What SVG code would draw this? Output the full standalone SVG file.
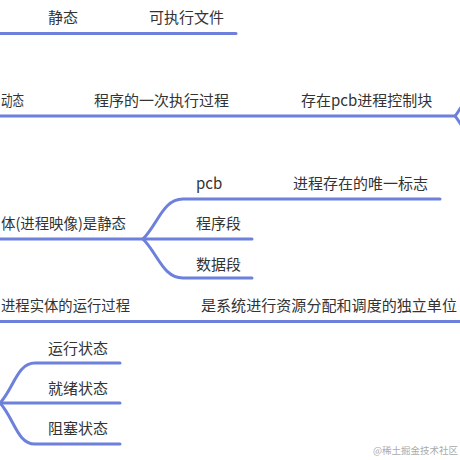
<svg xmlns="http://www.w3.org/2000/svg" width="460" height="460" viewBox="0 0 460 460">
<style>
.l{fill:none;stroke:#6d80db;stroke-width:3;stroke-linecap:round}
.t{font-family:"Noto Sans CJK SC","Noto Sans",sans-serif;font-size:15px;fill:#333}
.w{font-family:"Noto Sans CJK SC",sans-serif;font-size:9.5px;fill:#aaa}
</style>
<rect width="460" height="460" fill="#fff"/>
<g id="connectors">
<path class="l" d="M-5,33.5 H236"/>
<path class="l" d="M-5,116 H455 C458,113 459,109 464,104"/>
<path class="l" d="M455,116 C458,119 459,123 464,128"/>
<path class="l" d="M-5,239 H252"/>
<path class="l" d="M143,239 C158,224 163,199 183,199 H440"/>
<path class="l" d="M143,239 C158,254 163,278 183,278 H252"/>
<path class="l" d="M-5,321.5 H465"/>
<path class="l" d="M0,403 H120"/>
<path class="l" d="M0,403 C14,388 17,363 35,363 H120"/>
<path class="l" d="M0,403 C14,418 17,444 35,444 H120"/>
</g>
<g id="n-static"><text class="t" x="48" y="23">静态</text></g>
<g id="n-exe"><text class="t" x="149" y="23">可执行文件</text></g>
<g id="n-dynamic"><text class="t" x="1" y="106" textLength="23" lengthAdjust="spacingAndGlyphs">动态</text></g>
<g id="n-once"><text class="t" x="94" y="106">程序的一次执行过程</text></g>
<g id="n-pcbblock"><text class="t" x="301" y="106">存在pcb进程控制块</text></g>
<g id="n-entity"><text class="t" x="1" y="229" textLength="125" lengthAdjust="spacingAndGlyphs">体(进程映像)是静态</text></g>
<g id="n-pcb"><text class="t" x="196" y="189">pcb</text></g>
<g id="n-unique"><text class="t" x="293" y="189">进程存在的唯一标志</text></g>
<g id="n-code"><text class="t" x="196" y="229">程序段</text></g>
<g id="n-data"><text class="t" x="196" y="270">数据段</text></g>
<g id="n-run"><text class="t" x="1" y="311" textLength="129" lengthAdjust="spacingAndGlyphs">进程实体的运行过程</text></g>
<g id="n-unit"><text class="t" x="201" y="311" textLength="256" lengthAdjust="spacingAndGlyphs">是系统进行资源分配和调度的独立单位</text></g>
<g id="n-running"><text class="t" x="48" y="354">运行状态</text></g>
<g id="n-ready"><text class="t" x="48" y="394">就绪状态</text></g>
<g id="n-blocked"><text class="t" x="48" y="434">阻塞状态</text></g>
<text class="w" x="373" y="454">@稀土掘金技术社区</text>
</svg>
